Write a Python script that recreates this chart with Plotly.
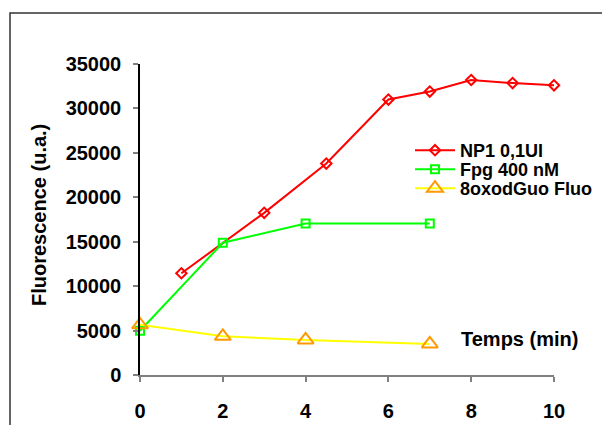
import plotly.graph_objects as go

# Data
np1_x = [1, 3, 4.5, 6, 7, 8, 9, 10]
np1_y = [11450, 18250, 23800, 31000, 31900, 33200, 32850, 32600]

fpg_x = [0, 2, 4, 7]
fpg_y = [4980, 14880, 17050, 17050]

oxo_x = [0, 2, 4, 7]
oxo_y = [5650, 4350, 3950, 3500]

x_ticks = [0, 2, 4, 6, 8, 10]
y_ticks = [0, 5000, 10000, 15000, 20000, 25000, 30000, 35000]

FONT = "Liberation Sans, Arial, sans-serif"
W, H = 610, 425
OFF = 8  # page body margin
# screen-coordinate plot area
SL, SR, ST, SB = 140, 554, 64, 375
PW, PH = SR - SL, SB - ST


def px(xp):
    return (xp - SL) / PW


def py(yp):
    return (SB - yp) / PH


fig = go.Figure()
fig.add_trace(go.Scatter(
    x=np1_x, y=np1_y, name="NP1 0,1UI", mode="lines+markers",
    line=dict(color="#FF0000", width=2),
    marker=dict(symbol="diamond-open", size=8, color="#FF0000", line=dict(width=2)),
    cliponaxis=False, legend="legend"))
fig.add_trace(go.Scatter(
    x=fpg_x, y=fpg_y, name="Fpg 400 nM", mode="lines+markers",
    line=dict(color="#00FF00", width=2),
    marker=dict(symbol="square-open", size=8, color="#00FF00", line=dict(width=2)),
    cliponaxis=False, legend="legend2"))
fig.add_trace(go.Scatter(
    x=oxo_x, y=oxo_y, name="8oxodGuo Fluo", mode="lines+markers",
    line=dict(color="#FFFF00", width=2),
    marker=dict(symbol="triangle-up-open", size=14, color="#FF9900", line=dict(width=2)),
    cliponaxis=False, legend="legend3"))

leg_common = dict(xanchor="left", yanchor="middle", bgcolor="rgba(0,0,0,0)",
                  font=dict(family=FONT, size=18, color="black", weight="bold"),
                  itemwidth=40)
leg_left = px(410)

fig.update_layout(
    width=W, height=H,
    margin=dict(l=SL - OFF, r=W - (SR - OFF), t=ST - OFF, b=H - (SB - OFF)),
    paper_bgcolor="white", plot_bgcolor="white",
    showlegend=True,
    legend=dict(x=leg_left, y=py(150.5), **leg_common),
    legend2=dict(x=leg_left, y=py(169.5), **leg_common),
    legend3=dict(x=leg_left, y=py(188.5), **leg_common),
    xaxis=dict(range=[0, 10], tickvals=x_ticks, showgrid=False, zeroline=False,
               showline=True, linecolor="#808080", linewidth=1.5,
               ticks="outside", ticklen=5, tickcolor="#808080", tickwidth=1.5,
               ticklabelstandoff=12, tickformat="d",
               tickfont=dict(family=FONT, size=20, color="black", weight="bold")),
    yaxis=dict(range=[0, 35000], tickvals=y_ticks, showgrid=False, zeroline=False,
               showline=True, linecolor="black", linewidth=1.5,
               ticks="outside", ticklen=5, tickcolor="#808080", tickwidth=1.5,
               ticklabelstandoff=8, tickformat="d",
               tickfont=dict(family=FONT, size=20, color="black", weight="bold")),
    annotations=[
        dict(text="Fluorescence (u.a.)", xref="paper", yref="paper",
             x=px(39), y=py(215), xanchor="center", yanchor="middle",
             textangle=-90, showarrow=False,
             font=dict(family=FONT, size=20, color="black", weight="bold")),
        dict(text="Temps (min)", xref="paper", yref="paper",
             x=px(459), y=py(338.5), xanchor="left", yanchor="middle",
             showarrow=False,
             font=dict(family=FONT, size=20, color="black", weight="bold")),
    ],
    shapes=[
        dict(type="rect", xref="paper", yref="paper",
             x0=px(10), x1=1.4, y0=-0.4, y1=py(13),
             line=dict(color="#333333", width=1.5), fillcolor="rgba(0,0,0,0)",
             layer="below"),
    ],
)

fig.write_html("out.html")
